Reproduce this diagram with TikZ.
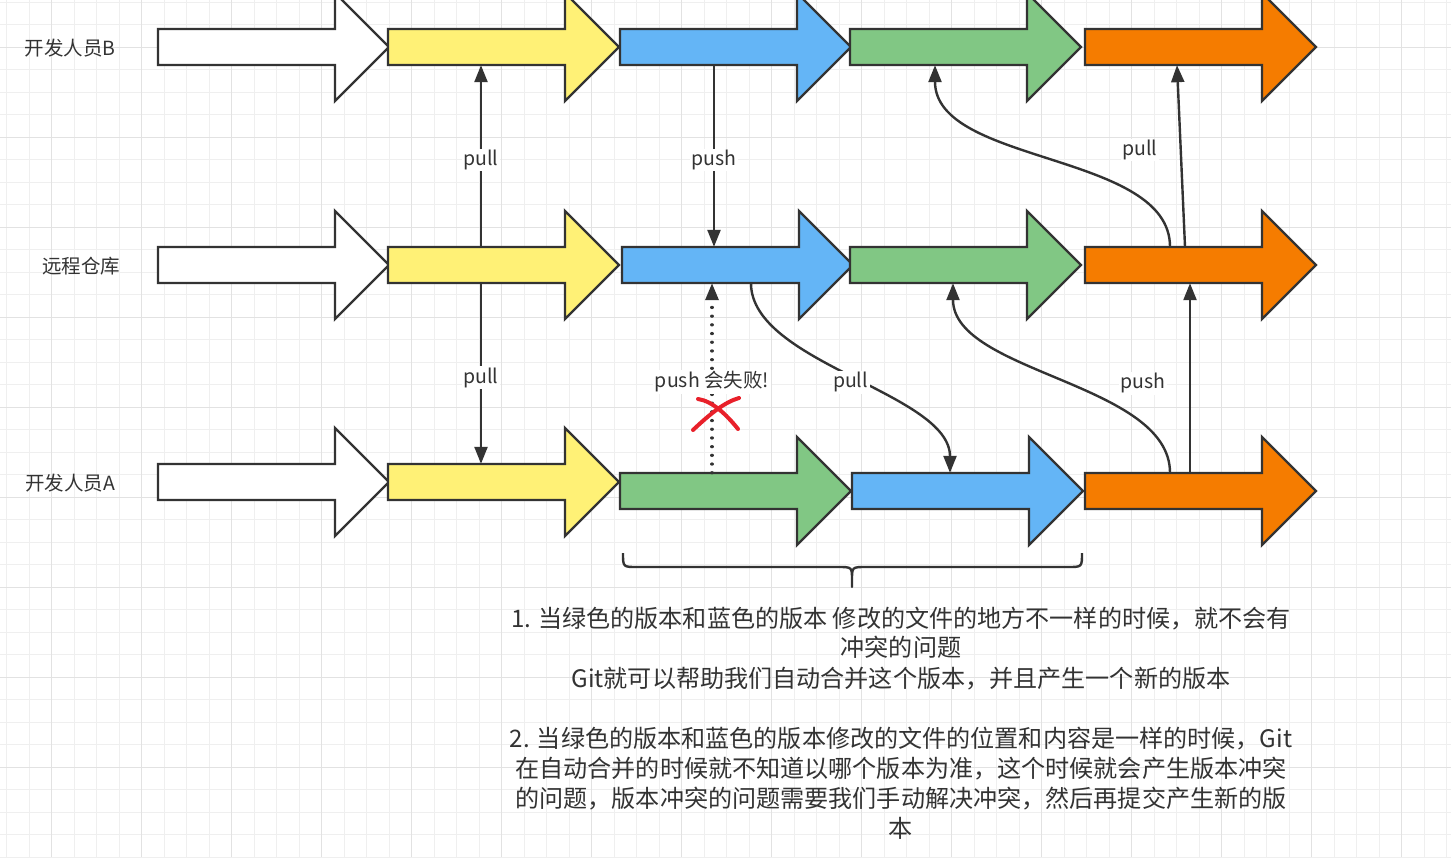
\documentclass[tikz,border=0pt]{standalone}
\usepackage{fontspec}
\setmainfont{Noto Sans CJK SC}
\usetikzlibrary{arrows.meta}

\definecolor{ink}{HTML}{333333}
\definecolor{cyellow}{HTML}{FFF176}
\definecolor{cblue}{HTML}{64B5F6}
\definecolor{cgreen}{HTML}{81C784}
\definecolor{corange}{HTML}{F57C00}
\definecolor{gridminor}{HTML}{EFEFEF}
\definecolor{gridmajor}{HTML}{E2E2E2}
\definecolor{crossred}{HTML}{E8202A}

\tikzset{
  commitshape/.style={draw=ink, line width=2.4pt, line join=miter},
  bodybox/.style={inner sep=0pt, minimum width=177pt, minimum height=36pt},
  flow/.style={draw=ink, line width=2.4pt, -{Triangle[length=17pt,width=13pt]}},
  dottedflow/.style={flow, line cap=round, dash pattern=on 0.1pt off 8.6pt, line width=3.2pt},
  tag/.style={fill=white, inner sep=1.5pt, yshift=-4pt, text=ink, font=\fontsize{19.5pt}{22pt}\selectfont},
  rowname/.style={text=ink, anchor=base, font=\fontsize{19.5pt}{22pt}\selectfont},
  notetext/.style={text=ink, anchor=base, inner sep=0pt, font=\fontsize{24.1pt}{30pt}\selectfont},
  redmark/.style={draw=crossred, line width=4pt, line cap=round},
  gridminorline/.style={draw=gridminor, line width=1pt},
  gridmajorline/.style={draw=gridmajor, line width=1.2pt},
}

% one commit: outline of a block arrow, plus a named box over its body
% #1 name, #2 left x, #3 centre y, #4 fill colour
\newcommand\commitarrow[4]{%
  \draw[commitshape, fill=#4] (#2,#3) ++(0,-18) -- ++(177,0) -- ++(0,-36)
    -- ++(54,54) -- ++(-54,54) -- ++(0,-36) -- ++(-177,0) -- cycle;
  \node[bodybox] (#1) at (#2+88.5,#3) {};
}

\begin{document}
\begin{tikzpicture}[x=1pt, y=-1pt]
  \useasboundingbox (0,0) rectangle (1451,857);
  \clip (0,0) rectangle (1451,857);
  \fill[white] (0,0) rectangle (1451,857);

  % background grid
  \foreach \k in {0,...,64} \draw[gridminorline] (6.7+22.5*\k,0) -- (6.7+22.5*\k,857);
  \foreach \k in {0,...,38} \draw[gridminorline] (0,2.3+22.5*\k) -- (1451,2.3+22.5*\k);
  \foreach \k in {0,...,15} \draw[gridmajorline] (51.7+90*\k,0) -- (51.7+90*\k,857);
  \foreach \k in {0,...,8} \draw[gridmajorline] (0,47.3+90*\k) -- (1451,47.3+90*\k);

  % row names
  \node[rowname] (nameB) at (70,55) {开发人员B};
  \node[rowname] (nameR) at (81,273) {远程仓库};
  \node[rowname] (nameA) at (70,490) {开发人员A};

  % developer B
  \commitarrow{bW}{158}{47}{white}
  \commitarrow{bY}{388}{47}{cyellow}
  \commitarrow{bB}{620}{47}{cblue}
  \commitarrow{bG}{850}{47}{cgreen}
  \commitarrow{bO}{1085}{47}{corange}

  % remote repository
  \commitarrow{rW}{158}{265}{white}
  \commitarrow{rY}{388}{265}{cyellow}
  \commitarrow{rB}{622}{265}{cblue}
  \commitarrow{rG}{850}{265}{cgreen}
  \commitarrow{rO}{1085}{265}{corange}

  % developer A
  \commitarrow{aW}{158}{482}{white}
  \commitarrow{aY}{388}{482}{cyellow}
  \commitarrow{aG}{620}{491}{cgreen}
  \commitarrow{aBl}{852}{491}{cblue}
  \commitarrow{aO}{1085}{491}{corange}

  % pulls and pushes
  \draw[flow] ([xshift=4.5pt]rY.north) -- node[tag]{pull} ([xshift=4.5pt]bY.south);
  \draw[flow] ([xshift=4.5pt]rY.south) -- node[tag]{pull} ([xshift=4.5pt]aY.north);
  \draw[flow] ([xshift=5.5pt]bB.south) -- node[tag]{push} ([xshift=3.5pt]rB.north);
  \draw[dottedflow] ([xshift=3.5pt]aG.north) -- node[tag]{push 会失败!} ([xshift=1.5pt]rB.south);
  \draw[flow] ([xshift=40.5pt]rB.south) .. controls +(0,80) and +(0,-80) .. node[tag]{pull} ([xshift=9.5pt]aBl.north);
  \draw[flow] ([xshift=-3.5pt]aO.north) .. controls +(0,-90) and +(0,90) .. ([xshift=14.5pt]rG.south);
  \draw[flow] ([xshift=16.5pt]aO.north) -- node[tag, xshift=-47pt, yshift=-1pt]{push} ([xshift=16.5pt]rO.south);
  \draw[flow] ([xshift=-3.5pt]rO.north) .. controls +(0,-95) and +(0,100) .. ([xshift=-3.5pt]bG.south);
  \draw[flow] ([xshift=11.5pt]rO.north) -- node[tag, xshift=-41pt, yshift=10pt]{pull} ([xshift=3.5pt]bO.south);

  % failed push mark
  \draw[redmark] (693,430) .. controls (711,413) and (725,402) .. (739,398);
  \draw[redmark] (698,399) .. controls (712,401) and (726,414) .. (738,429);

  % brace under the two diverging commits
  \draw[ink, line width=2.4pt, line join=round]
    (623,553) .. controls (623,567) .. (637,567) -- (838,567)
    .. controls (852,567) .. (852,580) -- (852,587) -- (852,580)
    .. controls (852,567) .. (866,567) -- (1068,567)
    .. controls (1082,567) .. (1082,553);

  % explanation
  \node[notetext] (n1) at (901,627) {1. 当绿色的版本和蓝色的版本 修改的文件的地方不一样的时候，就不会有};
  \node[notetext] (n2) at (901,656) {冲突的问题};
  \node[notetext] (n3) at (901,687) {Git就可以帮助我们自动合并这个版本，并且产生一个新的版本};
  \node[notetext] (n4) at (901,747) {2. 当绿色的版本和蓝色的版本修改的文件的位置和内容是一样的时候，Git};
  \node[notetext] (n5) at (901,777) {在自动合并的时候就不知道以哪个版本为准，这个时候就会产生版本冲突};
  \node[notetext] (n6) at (901,807) {的问题，版本冲突的问题需要我们手动解决冲突，然后再提交产生新的版};
  \node[notetext] (n7) at (901,837) {本};
\end{tikzpicture}
\end{document}
